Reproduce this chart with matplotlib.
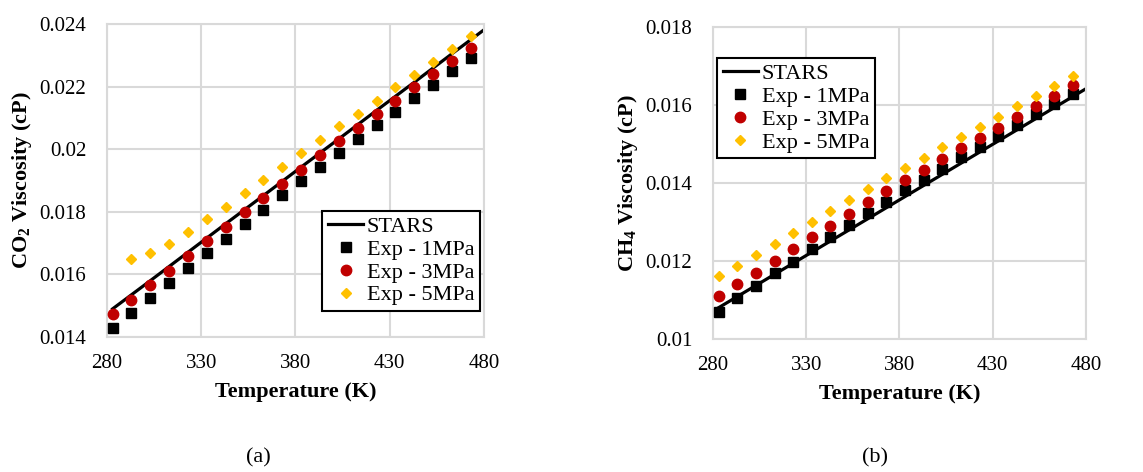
import matplotlib
matplotlib.use("Agg")
import matplotlib.pyplot as plt
from matplotlib.ticker import FuncFormatter

plt.rcParams['font.family'] = ['Liberation Serif', 'DejaVu Serif']
plt.rcParams['mathtext.fontset'] = 'custom'
plt.rcParams['mathtext.rm'] = 'Liberation Serif'
plt.rcParams['mathtext.bf'] = 'Liberation Serif:bold'

# temperatures of the experimental points (K)
temp = [283, 293, 303, 313, 323, 333, 343, 353, 363, 373,
        383, 393, 403, 413, 423, 433, 443, 453, 463, 473]
temp_5mpa_co2 = temp[1:]  # no gas point at 283 K / 5 MPa
temp_stars = [283, 303, 323, 343, 363, 383, 403, 423, 443, 463, 483]

# CO2 viscosity (cP)
co2_stars = [0.01490, 0.01580, 0.01671, 0.01762, 0.01852, 0.01943,
             0.02033, 0.02124, 0.02214, 0.02305, 0.02395]
co2_1mpa = [0.01429, 0.01476, 0.01525, 0.01574, 0.01620, 0.01667, 0.01713,
            0.01761, 0.01806, 0.01853, 0.01899, 0.01943, 0.01989, 0.02034,
            0.02079, 0.02119, 0.02164, 0.02206, 0.02250, 0.02293]
co2_3mpa = [0.01474, 0.01517, 0.01567, 0.01612, 0.01660, 0.01707, 0.01751,
            0.01798, 0.01843, 0.01889, 0.01935, 0.01981, 0.02026, 0.02068,
            0.02113, 0.02155, 0.02199, 0.02241, 0.02283, 0.02324]
co2_5mpa = [0.01648, 0.01667, 0.01698, 0.01737, 0.01776, 0.01815, 0.01859,
            0.01902, 0.01942, 0.01987, 0.02030, 0.02073, 0.02112, 0.02154,
            0.02198, 0.02238, 0.02279, 0.02321, 0.02362]

# CH4 viscosity (cP)
ch4_stars = [0.01080, 0.01137, 0.01194, 0.01251, 0.01308, 0.01365,
             0.01422, 0.01479, 0.01536, 0.01593, 0.01650]
ch4_1mpa = [0.01070, 0.01104, 0.01136, 0.01168, 0.01197, 0.01230, 0.01260,
            0.01291, 0.01324, 0.01351, 0.01381, 0.01408, 0.01436, 0.01466,
            0.01493, 0.01520, 0.01548, 0.01576, 0.01603, 0.01627]
ch4_3mpa = [0.01110, 0.01141, 0.01170, 0.01199, 0.01231, 0.01262, 0.01290,
            0.01321, 0.01350, 0.01378, 0.01407, 0.01434, 0.01462, 0.01489,
            0.01516, 0.01542, 0.01570, 0.01597, 0.01622, 0.01650]
ch4_5mpa = [0.01160, 0.01187, 0.01216, 0.01244, 0.01272, 0.01300, 0.01327,
            0.01355, 0.01384, 0.01412, 0.01437, 0.01464, 0.01491, 0.01518,
            0.01543, 0.01569, 0.01596, 0.01622, 0.01649, 0.01674]

x_ticks = [280, 330, 380, 430, 480]
co2_yticks = [0.014, 0.016, 0.018, 0.02, 0.022, 0.024]
ch4_yticks = [0.01, 0.012, 0.014, 0.016, 0.018]

GRID = '#D9D9D9'
RED = '#C00000'
GOLD = '#FFC000'


def draw_panel(ax, stars, p1, p3, p5, t5, yticks, ylabel, legend_loc, anchor):
    ax.plot(temp_stars, stars, color='black', lw=2.3, label='STARS', zorder=2)
    ax.plot(temp, p1, ls='none', marker='s', ms=7.5, color='black',
            label='Exp - 1MPa', zorder=3)
    ax.plot(temp, p3, ls='none', marker='o', ms=7.5, color=RED,
            label='Exp - 3MPa', zorder=3)
    ax.plot(t5, p5, ls='none', marker='D', ms=5.5, color=GOLD,
            label='Exp - 5MPa', zorder=3)
    ax.set_xlim(x_ticks[0], x_ticks[-1])
    ax.set_ylim(yticks[0], yticks[-1])
    ax.set_xticks(x_ticks)
    ax.set_yticks(yticks)
    ax.yaxis.set_major_formatter(FuncFormatter(lambda v, p: '%g' % v))
    ax.grid(True, color=GRID, lw=1.5)
    ax.set_axisbelow(True)
    for s in ax.spines.values():
        s.set_color(GRID)
        s.set_linewidth(1.5)
    ax.tick_params(length=0, labelsize=15, colors='black')
    ax.tick_params(axis='x', pad=12)
    ax.tick_params(axis='y', pad=15)
    ax.set_xlabel('Temperature (K)', fontsize=16, fontweight='bold', labelpad=7)
    ax.set_ylabel(ylabel, fontsize=16, fontweight='bold', labelpad=4)
    leg = ax.legend(loc=legend_loc, bbox_to_anchor=anchor, fontsize=16,
                    frameon=True, fancybox=False, framealpha=1,
                    edgecolor='black', handlelength=1.6, handletextpad=0.15,
                    borderpad=0.25, labelspacing=0.1, borderaxespad=0)
    leg.get_frame().set_linewidth(1.5)


fig = plt.figure(figsize=(11.43, 4.72), dpi=100)
ax1 = fig.add_axes([0.0936, 0.286, 0.3298, 0.663])
ax2 = fig.add_axes([0.6238, 0.282, 0.3263, 0.661])

draw_panel(ax1, co2_stars, co2_1mpa, co2_3mpa, co2_5mpa, temp_5mpa_co2,
           co2_yticks, r'CO$_\mathbf{2}$ Viscosity (cP)', 'lower right',
           (0.989, 0.083))
draw_panel(ax2, ch4_stars, ch4_1mpa, ch4_3mpa, ch4_5mpa, temp,
           ch4_yticks, r'CH$_\mathbf{4}$ Viscosity (cP)', 'upper left',
           (0.011, 0.90))

fig.text(258 / 1143, 1 - 458 / 472, '(a)', fontsize=16, ha='center', va='center')
fig.text(875 / 1143, 1 - 458 / 472, '(b)', fontsize=16, ha='center', va='center')

fig.savefig('out.png', dpi=100)
